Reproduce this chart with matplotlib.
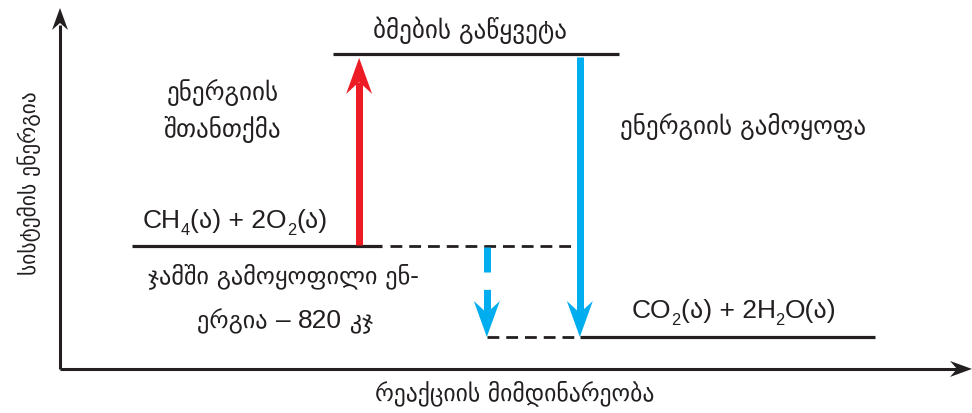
import matplotlib
matplotlib.use("Agg")
import matplotlib.pyplot as plt
from matplotlib.patches import Polygon
from matplotlib.lines import Line2D
from matplotlib.transforms import IdentityTransform

plt.rcParams['lines.scale_dashes'] = False

# ---- data ----
level_names = ["reactants", "bond_breaking", "products"]
level_energy = [0, 1730, -820]          # relative energy units (reactants = 0)
bond_label = "ბმების გაწყვეტა"
# formulas as (text, is_subscript) pieces
reactant_formula = [("CH", False), ("4", True), ("(ა) + 2O", False), ("2", True), ("(ა)", False)]
product_formula = [("CO", False), ("2", True), ("(ა) + 2H", False), ("2", True), ("O(ა)", False)]
ylabel_text = "სისტემის ენერგია"
xlabel_text = "რეაქციის მიმდინარეობა"
absorb_text = "ენერგიის\nშთანთქმა"
release_text = "ენერგიის გამოყოფა"
net_value = level_energy[0] - level_energy[2]
net_line1 = "ჯამში გამოყოფილი ენ-"
net_line2 = [("ერგია ", "geo"), ("– ", "lat"), (f"{net_value:.0f}", "lat"), (" კჯ", "geo")]

# ---- layout ----
BLACK = "#231F20"
RED = "#ED1C24"
BLUE = "#00AEEF"
GEO = ["DejaVu Sans"]
LAT = ["Liberation Sans", "DejaVu Sans"]

fig = plt.figure(figsize=(9.72, 4.13), dpi=100)
ax = fig.add_axes([0, 0, 1, 1])
ax.set_xlim(-6.58, 100)
ax.set_ylim(-1505, 2217)
ax.axis("off")
renderer = fig.canvas.get_renderer()

E0, Etop, Eprod = level_energy
Eaxis = -1108
Eaxtop = 2145

def head(tip, direction, color, length, half, notch):
    tx, ty = tip
    if direction == 'r':
        pts = [(tx, ty), (tx - length, ty + half), (tx - notch, ty), (tx - length, ty - half)]
    else:
        d = direction
        pts = [(tx, ty), (tx - half, ty - d * length), (tx, ty - d * notch), (tx + half, ty - d * length)]
    ax.add_patch(Polygon(pts, closed=True, facecolor=color, edgecolor='none',
                         transform=IdentityTransform(), zorder=5))

def varrow(x, y_from, y_to, color, lw_px=7, dashes=None):
    t0 = ax.transData.transform((x, y_from))
    t1 = ax.transData.transform((x, y_to))
    d = 1 if t1[1] > t0[1] else -1
    length, half, notch = 36, 13, 24
    end = (t1[0], t1[1] - d * notch)
    ln = Line2D([t0[0], end[0]], [t0[1], end[1]], color=color, lw=lw_px * 0.72,
                solid_capstyle='butt', dash_capstyle='butt', transform=IdentityTransform(), zorder=4)
    if dashes is not None:
        ln.set_dashes(dashes)
    ax.add_line(ln)
    head(t1, d, color, length, half, notch)

def chain(x, y, pieces, ha='left'):
    """pieces: list of (text, size, family, dy_px); baseline at data (x, y)."""
    bx, by = ax.transData.transform((x, y))
    arts = []
    widths = []
    for s, size, fam, dy in pieces:
        t = ax.text(0, 0, s, fontsize=size, family=fam, color=BLACK, ha='left',
                    va='baseline', transform=IdentityTransform())
        w = t.get_window_extent(renderer).width
        arts.append((t, dy))
        widths.append(w)
    total = sum(widths)
    cx = bx - (total / 2 if ha == 'center' else 0)
    for (t, dy), w in zip(arts, widths):
        t.set_position((cx, by - dy))
        cx += w

def formula_pieces(f, size):
    return [(s, size * 0.62 if sub else size, LAT, 7 if sub else 0) for s, sub in f]

# axes
ax.plot([0, 0], [Eaxis, Eaxtop - 150], color=BLACK, lw=2.2, solid_capstyle='butt')
ax.plot([0, 99], [Eaxis, Eaxis], color=BLACK, lw=2.2, solid_capstyle='butt')
head(ax.transData.transform((0, Eaxtop)), 1, BLACK, 22, 8, 15)
head(ax.transData.transform((100, Eaxis)), 'r', BLACK, 22, 8, 15)

# levels
ax.plot([7.9, 35.3], [E0, E0], color=BLACK, lw=2.3, solid_capstyle='butt')
ax.plot([29.9, 61.3], [Etop, Etop], color=BLACK, lw=2.3, solid_capstyle='butt')
ax.plot([57.0, 89.4], [Eprod, Eprod], color=BLACK, lw=2.3, solid_capstyle='butt')
ax.plot([36.2, 57.0], [E0, E0], color=BLACK, lw=2.0, dashes=(8.5, 5), dash_capstyle='butt')
ax.plot([46.8, 57.0], [Eprod, Eprod], color=BLACK, lw=2.0, dashes=(8.5, 5), dash_capstyle='butt')

# arrows
varrow(32.8, E0 + 10, Etop - 35, RED)
varrow(57.0, Etop - 25, Eprod, BLUE)
varrow(46.8, E0 - 10, Eprod, BLUE, dashes=(18, 12.5))

# texts
ax.text(17.8, 1216, absorb_text, family=GEO, fontsize=18, color=BLACK,
        ha='center', va='center', linespacing=1.5)
ax.text(61.4, 1081, release_text, family=GEO, fontsize=18, color=BLACK,
        ha='left', va='center')
ax.text(45.0, 1946, bond_label, family=GEO, fontsize=18, color=BLACK,
        ha='center', va='center')
chain(9.1, 162, formula_pieces(reactant_formula, 19))
chain(62.7, -649, formula_pieces(product_formula, 19))
ax.text(24.5, -270, net_line1, family=GEO, fontsize=17.5, color=BLACK,
        ha='center', va='center')
chain(24.7, -739, [(s, 19 if k == "lat" else 17.5, LAT if k == "lat" else GEO, 0)
                   for s, k in net_line2], ha='center')
ax.text(49.9, -1325, xlabel_text, family=GEO, fontsize=17, color=BLACK,
        ha='center', va='center')
ax.text(-3.4, 568, ylabel_text, family=GEO, fontsize=15.5, color=BLACK,
        ha='center', va='center', rotation=90)

fig.savefig("out.png", dpi=100)
